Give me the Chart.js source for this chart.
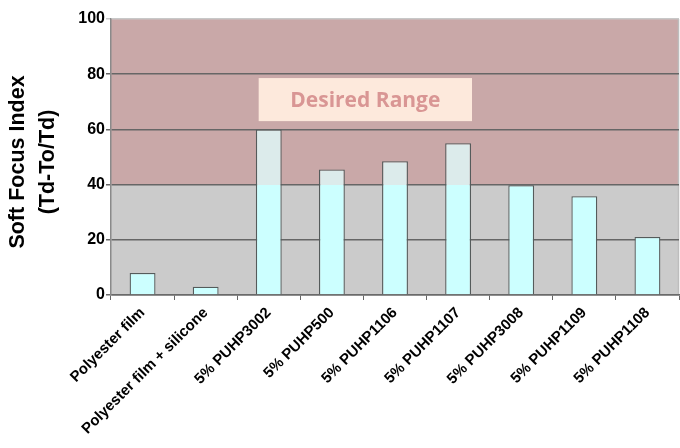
<!DOCTYPE html>
<html>
<head>
<meta charset="utf-8">
<script src="https://cdn.jsdelivr.net/npm/chart.js@4.4.0/dist/chart.umd.min.js"></script>
<style>
  html, body { margin: 0; padding: 0; background: #fff; }
  #wrap { width: 680px; height: 448px; position: relative; }
</style>
</head>
<body>
<div id="wrap"><canvas id="chart"></canvas></div>
<script>
// Samples and their soft focus index
const categories = [
  'Polyester film',
  'Polyester film + silicone',
  '5% PUHP3002',
  '5% PUHP500',
  '5% PUHP1106',
  '5% PUHP1107',
  '5% PUHP3008',
  '5% PUHP1109',
  '5% PUHP1108'
];
const softFocus = [8, 3, 60, 45.5, 48.5, 55, 39.8, 35.8, 21];
const yTicks = [0, 20, 40, 60, 80, 100];
const yTitle = ['Soft Focus Index', '(Td-To/Td)'];

// Desired range band (y units) and its label box (x index / y units)
const desiredMin = 40;
const desiredMax = 100;
const labelBox = { x0: 1.84, x1: 5.22, y0: 63, y1: 78.6, text: 'Desired Range' };

const bandPlugin = {
  id: 'bands',
  beforeDraw(chart) {
    const { ctx, chartArea, scales } = chart;
    const y = scales.y;
    const yLo = y.getPixelForValue(0);
    const yMid = y.getPixelForValue(desiredMin);
    const yHi = y.getPixelForValue(desiredMax);
    ctx.save();
    ctx.fillStyle = '#cbcbcb';
    ctx.fillRect(chartArea.left, yMid, chartArea.right - chartArea.left, yLo - yMid);
    ctx.fillStyle = '#c9a8a8';
    ctx.fillRect(chartArea.left, yHi, chartArea.right - chartArea.left, yMid - yHi);
    // right border
    ctx.strokeStyle = '#bdbdbd';
    ctx.lineWidth = 1.5;
    ctx.beginPath();
    ctx.moveTo(chartArea.right - 0.5, yHi);
    ctx.lineTo(chartArea.right - 0.5, yLo);
    ctx.stroke();
    ctx.restore();
  },
  afterDatasetsDraw(chart) {
    const { ctx, scales, chartArea } = chart;
    const x = scales.x, y = scales.y;
    const left = x.getPixelForValue(labelBox.x0);
    const right = x.getPixelForValue(labelBox.x1);
    const top = y.getPixelForValue(labelBox.y1);
    const bottom = y.getPixelForValue(labelBox.y0);
    ctx.save();
    ctx.fillStyle = '#fde9dc';
    ctx.fillRect(left, top, right - left, bottom - top);
    ctx.fillStyle = '#d99694';
    ctx.font = 'bold 21px "Open Sans", sans-serif';
    ctx.textAlign = 'center';
    ctx.textBaseline = 'middle';
    ctx.fillText(labelBox.text, (left + right) / 2, (top + bottom) / 2 + 1);

    // y axis title, two lines
    const cy = (chartArea.top + chartArea.bottom) / 2 + 5;
    ctx.fillStyle = '#000';
    ctx.font = 'bold 21.5px "Liberation Sans", Arial, sans-serif';
    ctx.translate(18, cy);
    ctx.rotate(-Math.PI / 2);
    ctx.fillText(yTitle[0], 0, 0);
    ctx.fillText(yTitle[1], 0, 30);
    ctx.restore();
  }
};

function barFill(context) {
  const chart = context.chart;
  const y = chart.scales.y;
  if (!y || !chart.chartArea) return '#ccffff';
  const p0 = y.getPixelForValue(0);
  const p1 = y.getPixelForValue(desiredMax);
  if (!isFinite(p0) || !isFinite(p1) || p0 === p1) return '#ccffff';
  const g = chart.ctx.createLinearGradient(0, p0, 0, p1);
  const stop = desiredMin / desiredMax;
  g.addColorStop(0, '#ccffff');
  g.addColorStop(stop, '#ccffff');
  g.addColorStop(stop, '#dcebeb');
  g.addColorStop(1, '#dcebeb');
  return g;
}

new Chart(document.getElementById('chart'), {
  type: 'bar',
  data: {
    labels: categories,
    datasets: [{
      data: softFocus,
      backgroundColor: barFill,
      borderColor: '#555b5b',
      borderWidth: 1.3,
      categoryPercentage: 1,
      barPercentage: 0.41
    }]
  },
  options: {
    responsive: true,
    maintainAspectRatio: false,
    animation: false,
    layout: { padding: { top: 19, right: 1, left: 0, bottom: 0 } },
    plugins: {
      legend: { display: false },
      tooltip: { enabled: false }
    },
    scales: {
      x: {
        grid: { drawOnChartArea: false, drawTicks: true, tickLength: 5, color: '#666', offset: true },
        border: { color: '#6a6a6a', width: 1.5 },
        ticks: {
          color: '#000',
          font: { family: '"Liberation Sans", Arial, sans-serif', weight: 'bold', size: 15 },
          minRotation: 45,
          maxRotation: 45,
          autoSkip: false,
          padding: 4
        },
        afterFit(scale) { scale.height = 153; }
      },
      y: {
        min: 0,
        max: 100,
        afterBuildTicks(scale) { scale.ticks = yTicks.map(v => ({ value: v })); },
        grid: {
          color: ctx => ctx.tick && ctx.tick.value === 100 ? '#c8c8c8' : (ctx.tick && ctx.tick.value === 0 ? '#6a6a6a' : '#666'),
          lineWidth: 1.5,
          tickLength: 5
        },
        border: { color: '#8a8a8a', width: 1.5 },
        ticks: {
          color: '#000',
          font: { family: '"Liberation Sans", Arial, sans-serif', weight: 'bold', size: 16 },
          padding: 1
        },
        title: { display: false },
        afterFit(scale) { scale.width = 111; }
      }
    }
  },
  plugins: [bandPlugin]
});
</script>
</body>
</html>
